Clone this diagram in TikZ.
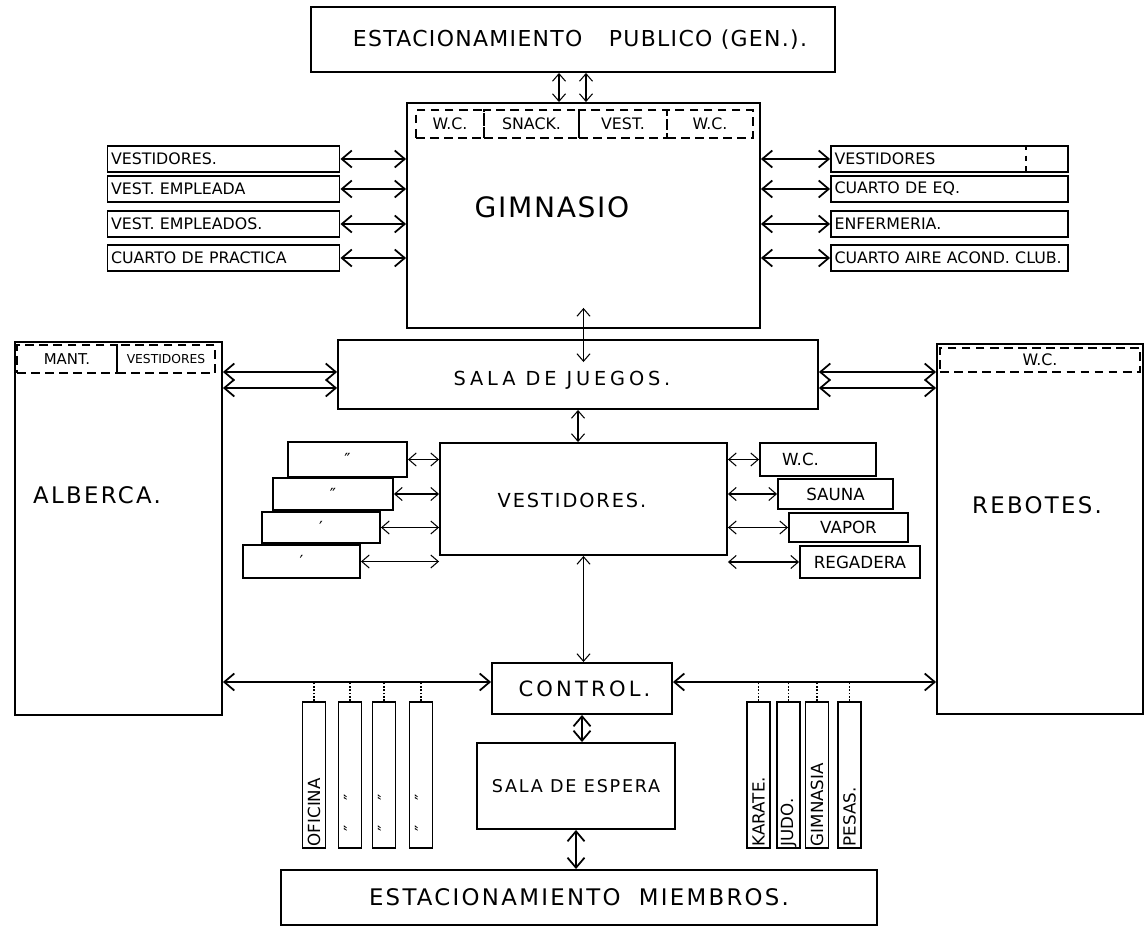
\documentclass[tikz,border=0pt]{standalone}
\usepackage{fontspec}
\setmainfont{DejaVu Sans}
\usetikzlibrary{arrows.meta}
\newcommand{\spaced}[1]{\addfontfeatures{LetterSpace=#1}}

\begin{document}
\begin{tikzpicture}[
  x=0.02cm, y=-0.02cm,
  room/.style={draw, line width=1.1pt, inner sep=1pt, align=center},
  listroom/.style={room, minimum height=0.52cm, align=left, inner xsep=2pt,
                   inner ysep=0.5pt, font=\fontsize{9}{10}\selectfont},
  stair/.style={room, font=\fontsize{9.5}{10}\selectfont},
  slot/.style={room, rotate=90, minimum height=0.46cm, text width=2.85cm,
               align=left, inner sep=1pt, font=\fontsize{9.5}{10}\selectfont},
  cell/.style={draw, line width=0.8pt, dash pattern=on 5pt off 3pt,
               minimum height=0.56cm, inner sep=1pt, font=\fontsize{9}{10}\selectfont},
  label/.style={inner sep=0pt},
  link/.style={line width=1pt,
               {Straight Barb[length=2mm,width=3.4mm]}-{Straight Barb[length=2mm,width=3.4mm]}},
  lightlink/.style={line width=0.6pt,
               {Straight Barb[length=1.5mm,width=2.6mm]}-{Straight Barb[length=1.5mm,width=2.6mm]}},
]
\path[use as bounding box, fill=white] (0,0) rectangle (1145,928);

% upper block
\node[room, minimum width=10.48cm, minimum height=1.3cm] (pub) at (573,39.5) {};
\node[label, font=\fontsize{12.5}{14}\selectfont\spaced{6}] (publ) at (580,40)
  {ESTACIONAMIENTO\hspace{1.2em}PUBLICO (GEN.).};
\node[room, minimum width=7.06cm, minimum height=4.5cm] (gim) at (583.5,215.5) {};
\node[label, font=\fontsize{16}{18}\selectfont\spaced{6}] (giml) at (552,207) {GIMNASIO};

\node[cell, minimum width=1.36cm] (gwca) at (450,124) {W.C.};
\node[cell, minimum width=1.9cm] (gsnack) at (531.5,124) {SNACK.};
\node[cell, minimum width=1.76cm] (gvest) at (623,124) {VEST.\hspace{0.4cm}};
\node[cell, minimum width=1.72cm] (gwcb) at (710,124) {W.C.};

\node[listroom, text width=4.5cm] (lvest) at (223.5,159) {VESTIDORES.};
\node[listroom, text width=4.5cm] (lempa) at (223.5,189) {VEST. EMPLEADA};
\node[listroom, text width=4.5cm] (lempo) at (223.5,224) {VEST. EMPLEADOS.};
\node[listroom, text width=4.5cm] (lprac) at (223.5,258) {CUARTO DE PRACTICA};

\node[listroom, text width=4.6cm] (rvest) at (949.5,159) {VESTIDORES};
\node[listroom, text width=4.6cm] (requip) at (949.5,189) {CUARTO DE EQ.};
\node[listroom, text width=4.6cm] (renf) at (949.5,224) {ENFERMERIA.};
\node[listroom, text width=4.6cm] (raire) at (949.5,258) {CUARTO AIRE ACOND. CLUB.};
\draw[dashed, line width=0.6pt] ([xshift=-0.86cm]rvest.north east) -- ([xshift=-0.86cm]rvest.south east);

\draw[lightlink] ([xshift=-0.28cm]pub.south) -- ([xshift=-0.28cm]pub.south |- gim.north);
\draw[lightlink] ([xshift=0.26cm]pub.south) -- ([xshift=0.26cm]pub.south |- gim.north);

\draw[link] (lvest.east) -- (lvest.east -| gim.west);
\draw[link] (lempa.east) -- (lempa.east -| gim.west);
\draw[link] (lempo.east) -- (lempo.east -| gim.west);
\draw[link] (lprac.east) -- (lprac.east -| gim.west);
\draw[link] (rvest.west) -- (rvest.west -| gim.east);
\draw[link] (requip.west) -- (requip.west -| gim.east);
\draw[link] (renf.west) -- (renf.west -| gim.east);
\draw[link] (raire.west) -- (raire.west -| gim.east);

% middle block
\node[room, minimum width=9.6cm, minimum height=1.38cm] (juegos) at (578,374.5) {};
\node[label, font=\fontsize{11}{13}\selectfont\spaced{20}] (juegosl) at (562,380) {SALA DE JUEGOS.};
\node[room, minimum width=4.14cm, minimum height=7.46cm] (alb) at (118.5,528.5) {};
\node[room, minimum width=4.12cm, minimum height=7.4cm] (reb) at (1040,529) {};
\node[label, font=\fontsize{13}{15}\selectfont\spaced{10}] (albl) at (97,495) {ALBERCA.};
\node[label, font=\fontsize{13}{15}\selectfont\spaced{10}] (rebl) at (1037,505) {REBOTES.};

\node[cell, minimum width=2.0cm, font=\fontsize{8.5}{10}\selectfont] (amant) at (67,359) {MANT.\hspace{0.25cm}};
\node[cell, minimum width=1.96cm, font=\fontsize{7}{8}\selectfont] (avest) at (166,359) {VESTIDORES};
\node[cell, minimum width=4.0cm, minimum height=0.48cm] (rwc) at (1040,360) {W.C.\hspace{1cm}};

\draw[lightlink] ([yshift=0.42cm]gim.south) -- ([yshift=-0.46cm]gim.south |- juegos.north);

\coordinate (ja) at ([yshift=0.05cm]juegos.west);
\coordinate (jb) at ([yshift=-0.27cm]juegos.west);
\coordinate (jc) at ([yshift=0.05cm]juegos.east);
\coordinate (jd) at ([yshift=-0.27cm]juegos.east);
\draw[link] (alb.east |- ja) -- (ja);
\draw[link] (alb.east |- jb) -- (jb);
\draw[link] (jc) -- (reb.west |- jc);
\draw[link] (jd) -- (reb.west |- jd);

\node[room, minimum width=5.74cm, minimum height=2.24cm] (vest) at (583.5,499) {};
\node[label, font=\fontsize{11}{13}\selectfont\spaced{10}] (vestl) at (572,500) {VESTIDORES.};
\draw[lightlink] (juegos.south) -- (juegos.south |- vest.north);

\node[stair, minimum width=2.38cm, minimum height=0.7cm] (sla) at (347.5,459.5) {\char"2033};
\node[stair, minimum width=2.4cm, minimum height=0.64cm] (slb) at (333,494) {\char"2033};
\node[stair, minimum width=2.36cm, minimum height=0.62cm] (slc) at (321,527.5) {\char"2032};
\node[stair, minimum width=2.34cm, minimum height=0.66cm] (sld) at (301.5,561.5) {\char"2032};

\node[stair, minimum width=2.32cm, minimum height=0.66cm] (wc) at (818,459.5) {W.C.\hspace{0.7cm}};
\node[stair, minimum width=2.3cm, minimum height=0.6cm] (sauna) at (835.5,494) {SAUNA};
\node[stair, minimum width=2.38cm, minimum height=0.58cm] (vapor) at (848.5,527.5) {VAPOR};
\node[stair, minimum width=2.4cm, minimum height=0.64cm] (regad) at (860,562) {REGADERA};

\draw[lightlink] (sla.east) -- (sla.east -| vest.west);
\draw[lightlink] (slb.east) -- (slb.east -| vest.west);
\draw[lightlink] (slc.east) -- (slc.east -| vest.west);
\draw[lightlink] (sld.east) -- (sld.east -| vest.west);
\draw[lightlink] (vest.east |- wc.west) -- (wc.west);
\draw[lightlink] (vest.east |- sauna.west) -- (sauna.west);
\draw[lightlink] (vest.east |- vapor.west) -- (vapor.west);
\draw[lightlink] (vest.east |- regad.west) -- (regad.west);

% lower block
\node[room, minimum width=3.6cm, minimum height=1.02cm, font=\fontsize{12}{14}\selectfont\spaced{15}]
  (control) at (582,688.5) {\hspace{0.1cm}CONTROL.};
\node[room, minimum width=3.96cm, minimum height=1.72cm, font=\fontsize{10}{12}\selectfont\spaced{10}]
  (espera) at (576,786) {SALA DE ESPERA};
\node[room, minimum width=11.92cm, minimum height=1.1cm, font=\fontsize{13}{15}\selectfont\spaced{10}]
  (miem) at (579,897.5) {ESTACIONAMIENTO\hspace{0.8em}MIEMBROS.};

\draw[lightlink] (vest.south) -- (vest.south |- control.north);
\coordinate (cl) at ([yshift=0.13cm]control.west);
\coordinate (cr) at ([yshift=0.13cm]control.east);
\draw[link] (alb.east |- cl) -- (cl);
\draw[link] (cr) -- (reb.west |- cr);
\draw[link] (control.south) -- (control.south |- espera.north);
\draw[link] (espera.south) -- (espera.south |- miem.north);

\node[slot] (ofa) at (314,775) {OFICINA};
\node[slot] (ofb) at (350,775) {\hspace{0.3cm}\char"2033\hspace{0.5cm}\char"2033};
\node[slot] (ofc) at (384,775) {\hspace{0.3cm}\char"2033\hspace{0.5cm}\char"2033};
\node[slot] (ofd) at (421,775) {\hspace{0.3cm}\char"2033\hspace{0.5cm}\char"2033};
\node[slot] (karate) at (758.5,775) {KARATE.};
\node[slot] (judo) at (788.5,775) {JUDO.};
\node[slot] (gimn) at (817,775) {GIMNASIA};
\node[slot] (pesas) at (849.5,775) {PESAS.};

\draw[densely dotted, line width=0.9pt] (ofa.east) -- (ofa.east |- cl);
\draw[densely dotted, line width=0.9pt] (ofb.east) -- (ofb.east |- cl);
\draw[densely dotted, line width=0.9pt] (ofc.east) -- (ofc.east |- cl);
\draw[densely dotted, line width=0.9pt] (ofd.east) -- (ofd.east |- cl);
\draw[densely dotted, line width=0.9pt] (karate.east) -- (karate.east |- cr);
\draw[densely dotted, line width=0.9pt] (judo.east) -- (judo.east |- cr);
\draw[densely dotted, line width=0.9pt] (gimn.east) -- (gimn.east |- cr);
\draw[densely dotted, line width=0.9pt] (pesas.east) -- (pesas.east |- cr);

\end{tikzpicture}
\end{document}
